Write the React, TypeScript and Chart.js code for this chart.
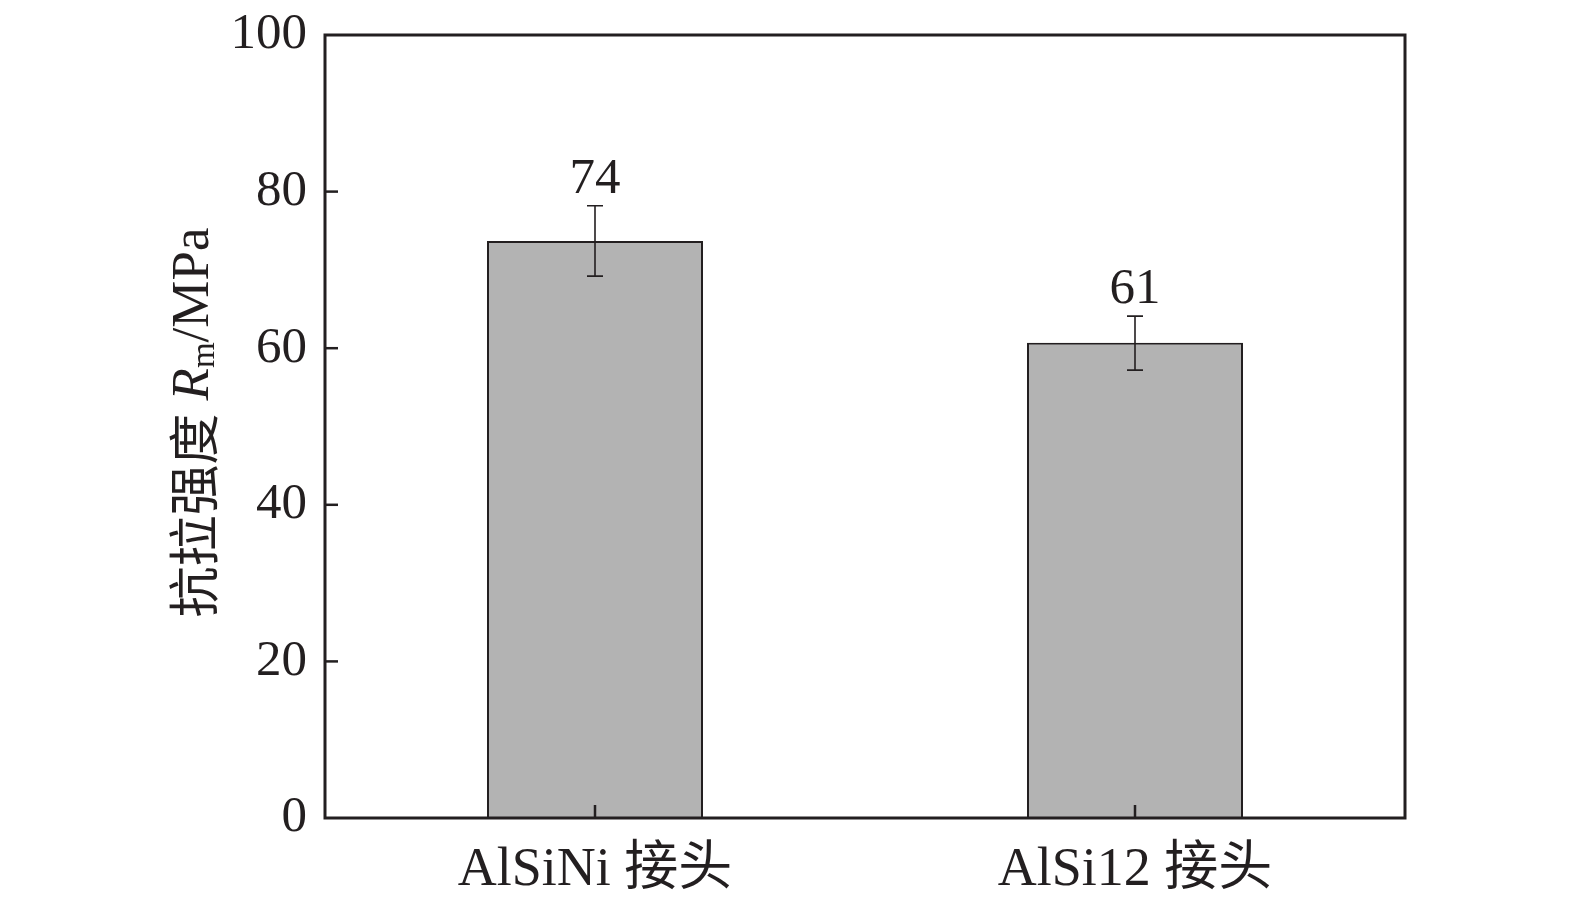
import React, { useEffect, useRef } from "react";
import { Chart, registerables } from "chart.js";

Chart.register(...registerables);

const categories = ["AlSiNi 接头", "AlSi12 接头"];
const values = [73.7, 60.7];
const errUpper = [78.2, 64.1];
const errLower = [69.2, 57.2];
const valueLabels = ["74", "61"];
const yTicks = [0, 20, 40, 60, 80, 100];

const SERIF = '"Liberation Serif", "Noto Sans CJK SC", serif';
const INK = "#231f20";

const decorPlugin = {
  id: "decor",
  afterDatasetsDraw(chart: any) {
    const { ctx, chartArea, scales } = chart;
    const x = scales.x;
    const y = scales.y;
    ctx.save();
    ctx.strokeStyle = INK;
    ctx.lineWidth = 1.6;
    values.forEach((v, i) => {
      const px = x.getPixelForValue(i);
      const top = y.getPixelForValue(errUpper[i]);
      const bot = y.getPixelForValue(errLower[i]);
      ctx.beginPath();
      ctx.moveTo(px, top);
      ctx.lineTo(px, bot);
      ctx.moveTo(px - 8, top);
      ctx.lineTo(px + 8, top);
      ctx.moveTo(px - 8, bot);
      ctx.lineTo(px + 8, bot);
      ctx.stroke();
      ctx.fillStyle = INK;
      ctx.font = `51px ${SERIF}`;
      ctx.textAlign = "center";
      ctx.textBaseline = "alphabetic";
      ctx.fillText(valueLabels[i], px, top - 13);
    });
    ctx.lineWidth = 2.5;
    yTicks.forEach((t) => {
      if (t === 0 || t === 100) return;
      const py = y.getPixelForValue(t);
      ctx.beginPath();
      ctx.moveTo(chartArea.left, py);
      ctx.lineTo(chartArea.left + 13, py);
      ctx.stroke();
    });
    categories.forEach((_, i) => {
      const px = x.getPixelForValue(i);
      ctx.beginPath();
      ctx.moveTo(px, chartArea.bottom);
      ctx.lineTo(px, chartArea.bottom - 13);
      ctx.stroke();
    });
    ctx.lineWidth = 3;
    ctx.strokeRect(chartArea.left, chartArea.top, chartArea.right - chartArea.left, chartArea.bottom - chartArea.top);
    const cx = 194;
    const cy = (chartArea.top + chartArea.bottom) / 2 - 4;
    ctx.translate(cx, cy);
    ctx.rotate(-Math.PI / 2);
    ctx.textBaseline = "middle";
    ctx.textAlign = "left";
    const parts = [
      { t: "抗拉强度", font: `51px "Noto Sans CJK SC", ${SERIF}`, dy: 0 },
      { t: " ", font: `52px ${SERIF}`, dy: 0 },
      { t: "R", font: `italic 53px ${SERIF}`, dy: 0 },
      { t: "m", font: `33px ${SERIF}`, dy: 11 },
      { t: "/MPa", font: `53px ${SERIF}`, dy: 0 },
    ];
    let total = 0;
    parts.forEach((p) => {
      ctx.font = p.font;
      total += ctx.measureText(p.t).width;
    });
    let off = -total / 2;
    parts.forEach((p) => {
      ctx.font = p.font;
      ctx.fillText(p.t, off, p.dy);
      off += ctx.measureText(p.t).width;
    });
    ctx.restore();
  },
};

function zeroPad(s: any) {
  s.paddingLeft = 0;
  s.paddingRight = 0;
  s.paddingTop = 0;
  s.paddingBottom = 0;
}

export default function App() {
  const ref = useRef<HTMLCanvasElement>(null);
  useEffect(() => {
    let chart: any = null;
    let cancelled = false;
    const make = () => {
      if (cancelled || !ref.current) return;
      chart = new Chart(ref.current, {
        type: "bar",
        data: {
          labels: categories,
          datasets: [
            {
              data: values,
              backgroundColor: "#b3b3b3",
              borderColor: INK,
              borderWidth: 2,
              barPercentage: 0.4,
              categoryPercentage: 1,
            },
          ],
        },
        options: {
          animation: false,
          responsive: false,
          devicePixelRatio: 1,
          layout: { padding: { top: 35, right: 170, left: 0, bottom: 0 } },
          plugins: { legend: { display: false }, tooltip: { enabled: false } },
          scales: {
            x: {
              grid: { display: false, drawTicks: false },
              border: { display: false },
              ticks: { color: INK, font: { family: SERIF, size: 54 }, padding: 20 },
              afterFit(s: any) {
                s.height = 93;
                zeroPad(s);
              },
            },
            y: {
              min: 0,
              max: 100,
              grid: { display: false, drawTicks: false },
              border: { display: false },
              ticks: { stepSize: 20, color: INK, font: { family: SERIF, size: 51 }, padding: 18 },
              afterFit(s: any) {
                s.width = 325;
                zeroPad(s);
              },
            },
          },
        },
        plugins: [decorPlugin],
      });
    };
    const fonts: any = (document as any).fonts;
    if (fonts && fonts.load) {
      Promise.all([
        fonts.load('50px "Liberation Serif"'),
        fonts.load('italic 50px "Liberation Serif"'),
        fonts.load('46px "Noto Sans CJK SC"', "抗拉强度接头"),
      ])
        .catch(() => {})
        .then(make);
    } else {
      make();
    }
    return () => {
      cancelled = true;
      if (chart) chart.destroy();
    };
  }, []);
  return (
    <div style={{ position: "fixed", left: 0, top: 0, width: 1575, height: 911, background: "#fff" }}>
      <canvas ref={ref} width={1575} height={911} />
    </div>
  );
}
